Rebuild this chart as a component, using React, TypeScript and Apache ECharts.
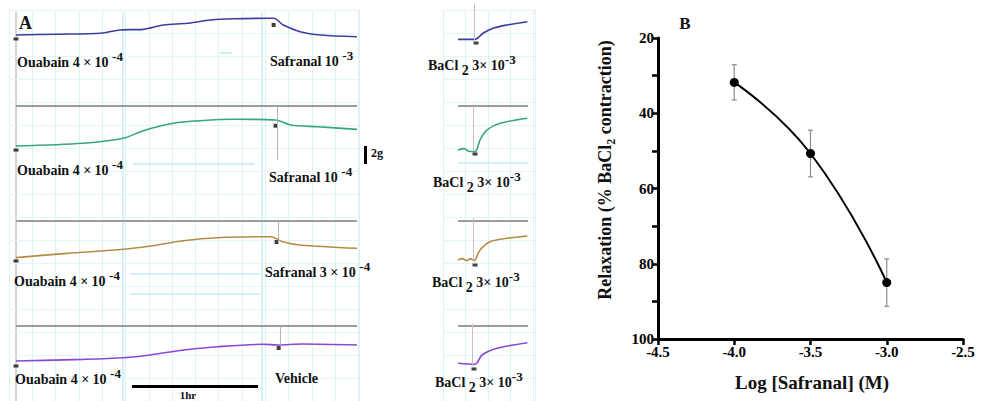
import { useEffect, useRef } from "react";
import * as echarts from "echarts";

const SERIF = '"Liberation Serif", "Times New Roman", serif';

// ---------- Panel A: isometric tension traces (time in min, tension in g) ----------
const ouabainTrace1: number[][] = [[0, 2.11], [20, 2.2], [40, 2.3], [49.5, 2.67], [60.5, 2.74], [70, 3.22], [81.4, 3.41], [92.4, 3.78], [103.3, 3.92], [122.4, 3.97], [127, 3.22], [135, 2.48], [144.8, 2.11], [162, 1.92]];
const ouabainTrace2: number[][] = [[0, 0.89], [32, 1.19], [51, 1.74], [60.5, 2.59], [74.8, 3.41], [87.6, 3.7], [103.3, 3.86], [123.3, 3.78], [130.5, 3.22], [143.3, 3.03], [162, 2.74]];
const ouabainTrace3: number[][] = [[0, 1.26], [24.3, 1.74], [51, 2.19], [63.8, 2.56], [79.5, 3.14], [95.7, 3.48], [121, 3.59], [126.7, 3.03], [135, 2.67], [162, 2.3]];
const ouabainTrace4: number[][] = [[0, 1.44], [32, 1.63], [51, 1.81], [63.8, 2.11], [79.5, 2.67], [95.7, 3.03], [117.6, 3.3], [124.3, 3.22], [136.2, 3.33], [162, 3.22]];
const baclTrace1: number[][] = [[0, 1.63], [8.1, 1.63], [11.9, 2.3], [16.7, 2.86], [23.3, 3.22], [33, 3.59]];
const baclTrace2: number[][] = [[0, 0.44], [3, 0.6], [5, 0.3], [8.1, 0.26], [10.5, 1.56], [13.8, 2.67], [20, 3.41], [33, 3.97]];
const baclTrace3: number[][] = [[0, 1.0], [2, 1.15], [4, 0.95], [6, 1.12], [7.6, 0.92], [10.5, 2.11], [15.2, 3.03], [23.3, 3.41], [33, 3.67]];
const baclTrace4: number[][] = [[0, 1.19], [8.1, 1.08], [11.4, 2.11], [18.6, 2.86], [33, 3.48]];

const leftTraces = [ouabainTrace1, ouabainTrace2, ouabainTrace3, ouabainTrace4];
const rightTraces = [baclTrace1, baclTrace2, baclTrace3, baclTrace4];
const traceColors = ["#3d3f9c", "#38a67a", "#b48c46", "#8a47d6"];
const startMarks: number[][] = [[0, 1.67], [0, 0.44], [0, 0.89], [0, 0.89]];
const additionMarks: number[][] = [[122.4, 3.22], [123.3, 3.14], [123.8, 3.0], [124.8, 2.89]];
const baclMarks: number[][] = [[8.6, 1.22], [8.1, 0], [8.1, 0.44], [7.6, 0.56]];
const additionLineEnd: (number | null)[] = [null, -0.7, 3.0, 3.2];
const baselineLevel = 5.33;
const ouabainLabel = "Ouabain 4 × 10 ";
const ouabainExp = "-4";
const safranalLabels = ["Safranal 10 ", "Safranal 10 ", "Safranal 3 × 10 ", "Vehicle"];
const safranalExps = ["-3", "-4", "-4", ""];
const baclLabel = ["BaCl", " 2", " 3× 10", "-3"];

// ---------- Panel B: concentration–response ----------
const logSafranal = [-4.0, -3.5, -3.0];
const relaxation = [31.8, 50.7, 85.0];
const relaxationSem = [4.7, 6.2, 6.3];
const xTicksB = { min: -4.5, max: -2.5, step: 0.5 };
const yTicksB = { min: 20, max: 100, step: 10 };

const rowTops = [0, 100, 215, 320];

export default function App() {
  const ref = useRef<HTMLDivElement>(null);
  useEffect(() => {
    const chart = echarts.init(ref.current!, undefined, { renderer: "svg" });

    const grids: any[] = [];
    const xAxes: any[] = [];
    const yAxes: any[] = [];
    const series: any[] = [];
    const hiddenAxis = { axisLine: { show: false }, axisTick: { show: false }, axisLabel: { show: false }, splitLine: { show: false } };

    rowTops.forEach((top, i) => {
      grids.push({ left: 16, top, width: 341, height: 63 });
      xAxes.push({ type: "value", gridIndex: i, min: 0, max: 162, ...hiddenAxis });
      yAxes.push({ type: "value", gridIndex: i, min: -1, max: 6, ...hiddenAxis });
    });
    rowTops.forEach((top, i) => {
      grids.push({ left: 458, top, width: 70, height: 63 });
      xAxes.push({ type: "value", gridIndex: 4 + i, min: 0, max: 33.3, ...hiddenAxis });
      yAxes.push({ type: "value", gridIndex: 4 + i, min: -1, max: 6, ...hiddenAxis });
    });
    // background chart-paper grids
    grids.push({ left: 9, top: 10, width: 350, height: 391 });
    xAxes.push({ type: "value", gridIndex: 8, min: 0, max: 350, interval: 23.3, axisLine: { show: false }, axisTick: { show: false }, axisLabel: { show: false }, splitLine: { show: true, lineStyle: { color: "#dcf2f5", width: 1 } } });
    yAxes.push({ type: "value", gridIndex: 8, min: 0, max: 391, interval: 23, axisLine: { show: false }, axisTick: { show: false }, axisLabel: { show: false }, splitLine: { show: true, lineStyle: { color: "#e4f5f8", width: 1 } } });
    grids.push({ left: 443, top: 10, width: 92, height: 391 });
    xAxes.push({ type: "value", gridIndex: 9, min: 0, max: 92, interval: 22.5, axisLine: { show: false }, axisTick: { show: false }, axisLabel: { show: false }, splitLine: { show: true, lineStyle: { color: "#dcf2f5", width: 1 } } });
    yAxes.push({ type: "value", gridIndex: 9, min: 0, max: 391, interval: 23, axisLine: { show: false }, axisTick: { show: false }, axisLabel: { show: false }, splitLine: { show: true, lineStyle: { color: "#e4f5f8", width: 1 } } });
    // panel B
    grids.push({ left: 658, top: 38, width: 305, height: 301 });
    xAxes.push({
      type: "value", gridIndex: 10, min: xTicksB.min, max: xTicksB.max, interval: xTicksB.step,
      axisLine: { show: true, onZero: false, lineStyle: { color: "#000", width: 3 } },
      axisTick: { show: true, length: 6, lineStyle: { color: "#000", width: 2.5 } },
      axisLabel: { formatter: (v: number) => v.toFixed(1), fontFamily: SERIF, fontWeight: "bold", fontSize: 15, color: "#000", margin: 5 },
      splitLine: { show: false },
    });
    yAxes.push({
      type: "value", gridIndex: 10, min: yTicksB.min, max: yTicksB.max, interval: yTicksB.step, inverse: true,
      axisLine: { show: true, onZero: false, lineStyle: { color: "#000", width: 3 } },
      axisTick: { show: true, length: 6, lineStyle: { color: "#000", width: 2.5 } },
      axisLabel: { formatter: (v: number) => (v % 20 === 0 ? String(v) : ""), fontFamily: SERIF, fontWeight: "bold", fontSize: 15, color: "#000", margin: 4 },
      splitLine: { show: false },
    });

    const grayLine = { color: "#9c9c9c", width: 2, type: "solid" };

    leftTraces.forEach((tr, i) => {
      const ml: any[] = [];
      if (i > 0) ml.push({ yAxis: baselineLevel });
      if (additionLineEnd[i] !== null) {
        ml.push([
          { coord: [additionMarks[i][0] + 0.8, baselineLevel], lineStyle: { color: "#b5b5b5", width: 1 } },
          { coord: [additionMarks[i][0] + 0.8, additionLineEnd[i]] },
        ]);
      }
      series.push({
        type: "line", xAxisIndex: i, yAxisIndex: i, data: tr, showSymbol: false, smooth: 0.3,
        lineStyle: { color: traceColors[i], width: 1.6 }, z: 3,
        markLine: { silent: true, symbol: ["none", "none"], label: { show: false }, lineStyle: grayLine, data: ml },
      });
      series.push({
        type: "scatter", xAxisIndex: i, yAxisIndex: i, data: [startMarks[i]], symbol: "rect", symbolSize: [5, 3],
        itemStyle: { color: "#111" }, z: 4,
      });
      series.push({
        type: "scatter", xAxisIndex: i, yAxisIndex: i, data: [additionMarks[i]], symbol: "rect", symbolSize: [4, 4],
        itemStyle: { color: "#111" }, z: 4,
      });
    });
    rightTraces.forEach((tr, i) => {
      const gi = 4 + i;
      const ml: any[] = [];
      if (i > 0) ml.push({ yAxis: baselineLevel });
      ml.push([
        { coord: [baclMarks[i][0] - 0.8, 5.6], lineStyle: { color: "#c2c2c2", width: 1 } },
        { coord: [baclMarks[i][0] - 0.8, baclMarks[i][1] + 0.3] },
      ]);
      series.push({
        type: "line", xAxisIndex: gi, yAxisIndex: gi, data: tr, showSymbol: false, smooth: 0.3,
        lineStyle: { color: traceColors[i], width: 1.6 }, z: 3,
        markLine: { silent: true, symbol: ["none", "none"], label: { show: false }, lineStyle: grayLine, data: ml },
      });
      series.push({
        type: "scatter", xAxisIndex: gi, yAxisIndex: gi, data: [baclMarks[i]], symbol: "rect", symbolSize: [5, 3],
        itemStyle: { color: "#111" }, z: 4,
      });
    });

    // Panel B error bars
    series.push({
      type: "custom", xAxisIndex: 10, yAxisIndex: 10, z: 2,
      data: logSafranal.map((x, i) => [x, relaxation[i] - relaxationSem[i], relaxation[i] + relaxationSem[i]]),
      renderItem: (_p: any, api: any) => {
        const lo = api.coord([api.value(0), api.value(1)]);
        const hi = api.coord([api.value(0), api.value(2)]);
        const w = 2.5;
        const st = { stroke: "#8c8c8c", lineWidth: 1.2 };
        return {
          type: "group",
          children: [
            { type: "line", shape: { x1: lo[0], y1: lo[1], x2: hi[0], y2: hi[1] }, style: st },
            { type: "line", shape: { x1: lo[0] - w, y1: lo[1], x2: lo[0] + w, y2: lo[1] }, style: st },
            { type: "line", shape: { x1: hi[0] - w, y1: hi[1], x2: hi[0] + w, y2: hi[1] }, style: st },
          ],
        };
      },
    });
    series.push({
      type: "line", xAxisIndex: 10, yAxisIndex: 10, z: 3,
      data: logSafranal.map((x, i) => [x, relaxation[i]]),
      smooth: 0.5, symbol: "circle", symbolSize: 9, showSymbol: true,
      lineStyle: { color: "#000", width: 2 }, itemStyle: { color: "#000" },
    });

    const bold = (size: number) => ({ fontFamily: SERIF, fontWeight: "bold", fontSize: size, fill: "#111" });
    const supRich = {
      m: { ...bold(14), lineHeight: 24, verticalAlign: "middle" },
      s: { ...bold(13), verticalAlign: "top" },
      d: { ...bold(14), lineHeight: 18, verticalAlign: "bottom" },
    };
    const txt = (x: number, y: number, text: string, extra: any = {}) => ({
      type: "text", x, y, z: 100,
      style: { text, rich: supRich, ...bold(14), verticalAlign: "middle", align: "left", ...extra },
    });

    const ouabainPos = [[17, 62], [17, 170], [14, 281], [15, 379]];
    const safranalPos = [[270, 61], [269, 177], [265, 272], [275, 378]];
    const baclPos = [[428, 65], [433, 182], [432, 282], [435, 382]];

    const graphic: any[] = [
      { type: "line", z: 0, shape: { x1: 16, y1: 12, x2: 16, y2: 401 }, style: { stroke: "#a5a5a5", lineWidth: 1 } },
      { type: "line", z: 0, shape: { x1: 123, y1: 12, x2: 123, y2: 401 }, style: { stroke: "#b8e8ee", lineWidth: 1.2 } },
      { type: "line", z: 0, shape: { x1: 262, y1: 12, x2: 262, y2: 401 }, style: { stroke: "#b8e8ee", lineWidth: 1.2 } },
      { type: "line", z: 0, shape: { x1: 220, y1: 53, x2: 232, y2: 53 }, style: { stroke: "#a8e3ea", lineWidth: 1.2 } },
      { type: "line", z: 0, shape: { x1: 133, y1: 164, x2: 255, y2: 164 }, style: { stroke: "#a8e3ea", lineWidth: 1.2 } },
      { type: "line", z: 0, shape: { x1: 130, y1: 274, x2: 260, y2: 274 }, style: { stroke: "#a8e3ea", lineWidth: 1.2 } },
      { type: "line", z: 0, shape: { x1: 130, y1: 294, x2: 260, y2: 294 }, style: { stroke: "#a8e3ea", lineWidth: 1.2 } },
      { type: "line", z: 0, shape: { x1: 458, y1: 163, x2: 528, y2: 163 }, style: { stroke: "#a8e3ea", lineWidth: 1.2 } },
      { type: "rect", z: 50, shape: { x: 364, y: 146, width: 3, height: 18 }, style: { fill: "#000" } },
      { type: "text", z: 100, x: 371, y: 153, style: { text: "2g", ...bold(12), verticalAlign: "middle" } },
      { type: "rect", z: 50, shape: { x: 132, y: 385, width: 126, height: 3 }, style: { fill: "#000" } },
      { type: "text", z: 100, x: 188, y: 394.5, style: { text: "1hr", ...bold(11), align: "center", verticalAlign: "middle" } },
      { type: "text", z: 100, x: 19, y: 23, style: { text: "A", ...bold(18), verticalAlign: "middle" } },
      { type: "text", z: 100, x: 685, y: 23, style: { text: "B", ...bold(17), align: "center", verticalAlign: "middle" } },
      { type: "text", z: 100, x: 812, y: 382, style: { text: "Log [Safranal] (M)", ...bold(19), align: "center", verticalAlign: "middle" } },
      {
        type: "text", z: 100, x: 605, y: 170, rotation: Math.PI / 2,
        style: {
          text: "{m|Relaxation (% BaCl}{d|2}{m| contraction)}", ...bold(18), align: "center", verticalAlign: "middle",
          rich: { m: { ...bold(18), lineHeight: 24, verticalAlign: "middle" }, d: { ...bold(12), lineHeight: 16, verticalAlign: "bottom" } },
        },
      },
    ];
    ouabainPos.forEach(([x, y]) => graphic.push(txt(x, y, `{m|${ouabainLabel}}{s|${ouabainExp}}`)));
    safranalPos.forEach(([x, y], i) =>
      graphic.push(txt(x, y, safranalExps[i] ? `{m|${safranalLabels[i]}}{s|${safranalExps[i]}}` : `{m|${safranalLabels[i]}}`))
    );
    baclPos.forEach(([x, y]) =>
      graphic.push(txt(x, y, `{m|${baclLabel[0]}}{d|${baclLabel[1]}}{m|${baclLabel[2]}}{s|${baclLabel[3]}}`))
    );

    chart.setOption({
      animation: false,
      backgroundColor: "#fff",
      grid: grids,
      xAxis: xAxes,
      yAxis: yAxes,
      series,
      graphic,
    });
    return () => chart.dispose();
  }, []);
  return <div ref={ref} style={{ position: "absolute", left: 0, top: 0, width: 984, height: 401 }} />;
}
